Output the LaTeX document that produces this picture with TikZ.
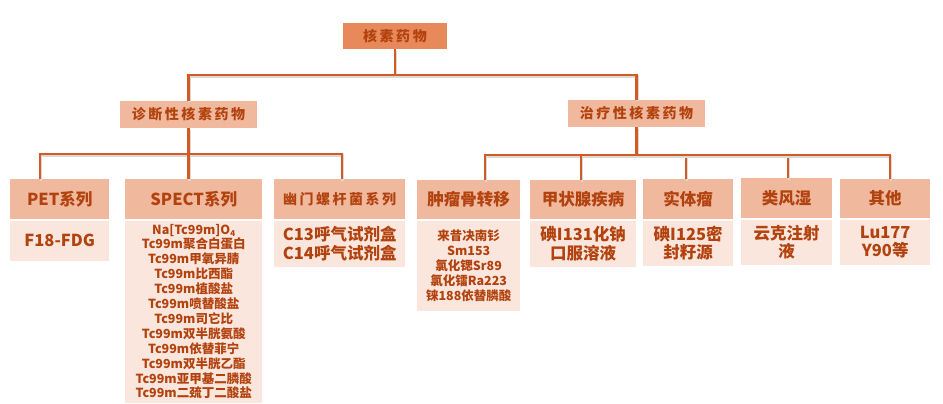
\documentclass[tikz,border=0pt]{standalone}
\usepackage{fontspec}
\setmainfont{Noto Sans CJK SC}
\newfontfamily\titlefont[LetterSpace=18]{Noto Sans CJK SC}
\usepackage{xcolor}
\usetikzlibrary{positioning}
\definecolor{rootfill}{HTML}{E8895B}
\definecolor{headfill}{HTML}{F0B99E}
\definecolor{bodyfill}{HTML}{FAE6DD}
\definecolor{inkred}{HTML}{B2420E}
\definecolor{linkred}{HTML}{D35A22}

\begin{document}
\begin{tikzpicture}[x=1pt,y=-1pt,
  box/.style={rectangle, inner sep=0pt, text=inkred, align=center, font=\bfseries\fontsize{16.5}{18.5}\selectfont},
  root/.style={box, fill=rootfill, font=\titlefont\bfseries\fontsize{14}{16}\selectfont},
  mid/.style={box, fill=headfill, font=\titlefont\bfseries\fontsize{14}{16}\selectfont},
  head/.style={box, fill=headfill, anchor=north west},
  body/.style={box, fill=bodyfill, anchor=north},
  small/.style={font=\bfseries\fontsize{12.5}{14.9}\selectfont},
  link/.style={draw=linkred, line width=2.4pt, line join=miter,
    preaction={draw=black!15, line width=2.5pt, transform canvas={shift={(1pt,-1.5pt)}}}}]
\useasboundingbox (0,0) rectangle (943,404);

\node[root, minimum width=104, minimum height=26] (root) at (395,36) {核素药物};
\node[mid, minimum width=137, minimum height=27] (diag) at (188.5,114.5) {诊断性核素药物};
\node[mid, minimum width=137, minimum height=27] (ther) at (636.5,113.5) {治疗性核素药物};

\node[head, minimum width=99, minimum height=40] (pet) at (10,179) {PET系列};
\node[body, minimum width=99, minimum height=40] (petbody) at ([yshift=-1pt]pet.south) {F18-FDG};
\node[head, minimum width=137, minimum height=40] (spect) at (125,179) {SPECT系列};
\node[body, small, minimum width=137, minimum height=182] (spectbody) at ([yshift=-1pt]spect.south)
  {Na[Tc99m]O\raisebox{-2pt}{\fontsize{8}{8}\selectfont 4}\\Tc99m聚合白蛋白\\Tc99m甲氧异腈\\Tc99m比西酯\\Tc99m植酸盐\\Tc99m喷替酸盐\\Tc99m司它比\\Tc99m双半胱氨酸\\Tc99m依替菲宁\\Tc99m双半胱乙酯\\Tc99m亚甲基二膦酸\\Tc99m二巯丁二酸盐};
\node[head, minimum width=131, minimum height=40, font=\titlefont\bfseries\fontsize{14}{16}\selectfont] (hp) at (274,179) {幽门螺杆菌系列};
\node[body, minimum width=131, minimum height=46] (hpbody) at ([yshift=-1pt]hp.south) {C13呼气试剂盒\\C14呼气试剂盒};

\node[head, minimum width=103, minimum height=39] (bone) at (417,180) {肿瘤骨转移};
\node[body, small, minimum width=103, minimum height=90] (bonebody) at ([yshift=-1pt]bone.south)
  {来昔决南钐\\Sm153\\氯化锶Sr89\\氯化镭Ra223\\铼188依替膦酸};
\node[head, minimum width=106, minimum height=39] (thyroid) at (530,180) {甲状腺疾病};
\node[body, minimum width=106, minimum height=46] (thyroidbody) at ([yshift=-1pt]thyroid.south) {碘I131化钠\\口服溶液};
\node[head, minimum width=90, minimum height=40] (solid) at (643,179) {实体瘤};
\node[body, minimum width=90, minimum height=45] (solidbody) at ([yshift=-1pt]solid.south) {碘I125密\\封籽源};
\node[head, minimum width=91, minimum height=40] (ra) at (741,178) {类风湿};
\node[body, minimum width=91, minimum height=45] (rabody) at ([yshift=-1pt]ra.south) {云克注射\\液};
\node[head, minimum width=90, minimum height=39] (other) at (840,179) {其他};
\node[body, minimum width=90, minimum height=45] (otherbody) at ([yshift=-1pt]other.south) {Lu177\\Y90等};

\coordinate (topbus) at (395,75);
\coordinate (lbus) at (188.5,154);
\coordinate (rbus) at (636.5,155);
\draw[link] (root.south) -- (topbus) -| (diag.north);
\draw[link] (topbus) -| (ther.north);
\draw[link] (diag.south) -- (lbus) -| ([xshift=-19.5pt]pet.north);
\draw[link] (lbus) -- (lbus |- spect.north);
\draw[link] (lbus) -| ([xshift=2pt]hp.north);
\draw[link] (ther.south) -- (rbus) -| ([xshift=16.5pt]bone.north);
\draw[link] (rbus) -| ([xshift=-2pt]thyroid.north);
\draw[link] (rbus) -| ([xshift=-2pt]solid.north);
\draw[link] (rbus) -| ([xshift=1.5pt]ra.north);
\draw[link] (rbus) -| ([xshift=5pt]other.north);
\end{tikzpicture}
\end{document}
